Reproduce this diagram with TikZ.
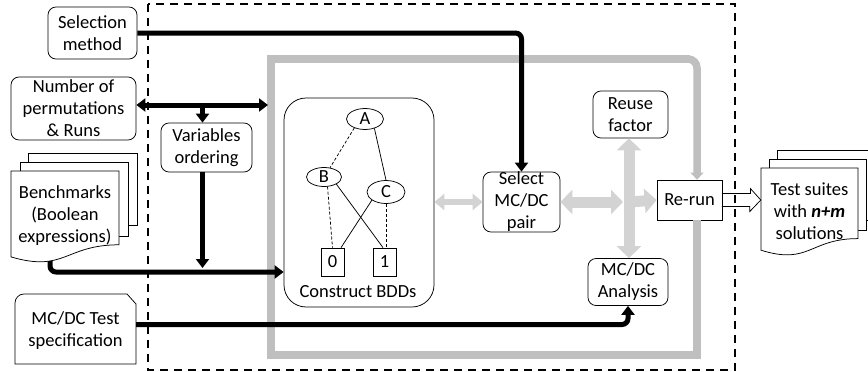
\documentclass[tikz,border=0pt]{standalone}
\usepackage{fontspec}
\setmainfont{Carlito}
\usetikzlibrary{arrows.meta,shapes.geometric,calc}
\definecolor{loopgray}{RGB}{191,191,191}
\definecolor{arrgray}{RGB}{211,211,211}
\begin{document}
\begin{tikzpicture}[x=1pt,y=-1pt,
  every node/.style={font=\fontsize{18.5}{22}\selectfont, inner sep=0pt, align=center},
  rbox/.style={draw, rounded corners=8pt, line width=0.75pt},
  sbox/.style={draw, line width=0.75pt},
  bddnode/.style={draw, ellipse, line width=0.75pt},
  leaf/.style={draw, line width=0.75pt, minimum width=23pt, minimum height=28pt},
  docst/.style={draw, fill=white, line width=0.75pt},
  blk/.style={draw=black, line width=5pt, rounded corners=6pt},
  blktip/.style={-{Triangle[width=13pt,length=9pt]}},
  blkboth/.style={{Triangle[width=13pt,length=9pt]}-{Triangle[width=13pt,length=9pt]}},
  loopst/.style={draw=loopgray, line width=7.5pt},
  gbig/.style={draw=arrgray, line width=11pt},
  gbigtip/.style={-{Triangle[width=24pt,length=12pt]}},
  gbigboth/.style={{Triangle[width=24pt,length=12pt]}-{Triangle[width=24pt,length=12pt]}},
  gsmallboth/.style={draw=arrgray, line width=6pt, {Triangle[width=16pt,length=10pt]}-{Triangle[width=16pt,length=10pt]}},
  bddedge/.style={line width=0.75pt},
  bdddash/.style={line width=0.75pt, dash pattern=on 3pt off 2pt}
]
\useasboundingbox (0,0) rectangle (868,372);

% outer dashed frame
\draw[line width=2pt, dash pattern=on 8pt off 6pt] (148,4) rectangle (735,370);

% Benchmarks document stack
\draw[docst] (28,153) rectangle (137,225);
\draw[docst] (20,162) rectangle (128,236);
\draw[docst] (11,171) -- (119,171) -- (119,244.8)
  .. controls (65,244.8) and (65,272.8) .. (11,256.9) -- cycle;

% Test suites document stack
\draw[docst] (777,150) rectangle (874,220);
\draw[docst] (769,159) rectangle (866,230);
\draw[docst] (761,168) -- (858,168) -- (858,238.6)
  .. controls (809.5,238.6) and (809.5,265.4) .. (761,250.2) -- cycle;

% MC/DC Test specification shape
\draw[line width=0.75pt] (15,364) -- (15,303) .. controls (15,298) and (19,294) .. (24,294)
  -- (127,294) -- (136,304) -- (136,364) -- cycle;

% nodes
\node[rbox, minimum width=89pt, minimum height=52pt] (sel) at (92.5,33) {Selection\\method};
\node[rbox, minimum width=125pt, minimum height=63pt] (num) at (73.5,108.5) {Number of\\permutations\\\& Runs};
\node[rbox, minimum width=91pt, minimum height=49pt] (var) at (206.5,147.5) {Variables\\ordering};
\node (bench) at (65,216) {Benchmarks\\(Boolean\\expressions)};
\node[minimum width=121pt, minimum height=60pt] (spec) at (75.5,331) {MC/DC Test\\specification};

\node[rbox, rounded corners=22pt, minimum width=150pt, minimum height=209pt] (bdd) at (359,202.5) {};
\node[bddnode, minimum width=37pt, minimum height=21pt] (A) at (365,119) {A};
\node[bddnode, minimum width=35pt, minimum height=19pt] (B) at (324,177) {B};
\node[bddnode, minimum width=38pt, minimum height=23pt] (C) at (386,192) {C};
\node[leaf] (b0) at (332.5,262) {0};
\node[leaf] (b1) at (384.5,262) {1};
\node (bddlab) at (358,292) {Construct BDDs};

\node[rbox, minimum width=77pt, minimum height=60pt] (selmc) at (521.5,202) {Select\\MC/DC\\pair};
\node[rbox, minimum width=75pt, minimum height=47pt] (reuse) at (630.5,114.5) {Reuse\\factor};
\node[rbox, minimum width=80pt, minimum height=47pt] (ana) at (628,282) {MC/DC\\Analysis};
\node[sbox, minimum width=65pt, minimum height=40pt] (rerun) at (689.5,200) {Re-run};
\node[minimum width=97pt, minimum height=70pt] (tests) at (809.5,211) {Test suites\\with \textbf{\textit{n+m}}\\solutions};

% BDD edges
\draw[bdddash] (A.220) -- (B.57);
\draw[bddedge] (A.-45) -- (C.north);
\draw[bdddash] (B.-70) -- (b0.north);
\draw[bddedge] (B.-30) -- ([xshift=-1.5pt]b1.north);
\draw[bddedge] (C.-150) -- ([xshift=8.5pt]b0.north);
\draw[bdddash] (C.south) -- (C.south |- b1.north);

% grey feedback loop
\coordinate (lpBR) at (697,355);
\coordinate (lpBL) at (271,355);
\coordinate (lpTL) at (271,59);
\coordinate (lpT2) at (690,59);
\coordinate (lpT1) at (684,59);
\coordinate (lpTR) at (697,59);
\draw[loopst] ([xshift=7.5pt]rerun.south) -- (lpBR) -- (lpBL) -- (lpTL) -- (lpT2);
\draw[loopst, rounded corners=9pt, -{Triangle[width=13pt,length=7pt]}] (lpT1) -- (lpTR) -- ([xshift=7.5pt]rerun.north);

% grey arrows
\coordinate (cross) at (629,202);
\draw[gsmallboth] (bdd.east |- selmc.west) -- (selmc.west);
\draw[gbig, gbigboth] (selmc.east) -- ([xshift=-6pt]cross);
\draw[gbig, gbigboth] (cross |- reuse.south) -- (cross |- ana.north);
\draw[gbig, gbigtip] (cross) -- (rerun.west);

% black connectors
\draw[blk, blktip] (sel.east) -| (selmc.north);
\coordinate (loopL) at (268,105);
\draw[blk, blkboth] (num.east |- loopL) -- (loopL);
\coordinate (branch) at (202.5,105);
\draw[blk, blktip] (branch) -- (branch |- var.north);
\coordinate (varend) at (202.5,268);
\draw[blk, blktip] (branch |- var.south) -- (varend);
\coordinate (benchout) at (50,261);
\coordinate (benchrow) at (0,272);
\draw[blk, blktip] (benchout) |- (bdd.west |- benchrow);
\draw[blk, blktip] ([yshift=6.5pt]spec.east) -| (ana.south);

% hollow output arrow
\draw[line width=0.75pt] ($(rerun.east)+(0,-6.5)$) -- ++(28,0) -- ++(0,-5)
  -- (tests.west |- rerun.east) -- ++(-11,11.5) -- ++(0,-5) -- ++(-28,0);
\end{tikzpicture}
\end{document}
